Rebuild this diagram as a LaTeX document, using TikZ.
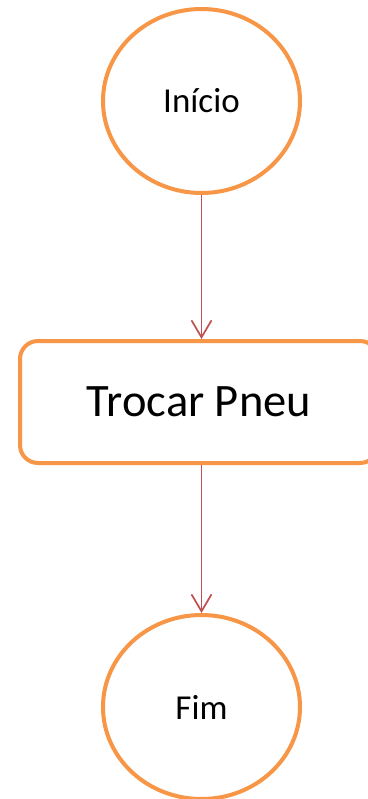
\documentclass[tikz,border=0pt]{standalone}
\usepackage{fontspec}
\setmainfont{Carlito}
\usetikzlibrary{shapes.geometric,arrows.meta}
\definecolor{orangeline}{HTML}{F79646}
\definecolor{arrowred}{HTML}{C0504D}
\tikzset{
  term/.style={ellipse, draw=orangeline, line width=4pt, fill=white,
    minimum width=197pt, minimum height=184pt, inner sep=0pt,
    font=\fontsize{35}{42}\selectfont},
  procbox/.style={rectangle, rounded corners=18pt, draw=orangeline, line width=4pt, fill=white,
    minimum width=358pt, minimum height=122pt, inner sep=0pt,
    font=\fontsize{46.5}{56}\selectfont},
  flow/.style={draw=arrowred, line width=1.7pt,
    -{Straight Barb[length=17pt, width=20pt, line width=1.7pt]}}
}
\begin{document}
\begin{tikzpicture}[x=1pt, y=-1pt]
\useasboundingbox (0,0) rectangle (367,799);
\node[term] (start) at (201.5,101) {Início};
\node[procbox] (task) at (199,402) {Trocar Pneu};
\node[term] (stop) at (201.5,707) {Fim};
\draw[flow] (start.south) -- (start.south |- task.north);
\draw[flow] (start.south |- task.south) -- (stop.north);
\end{tikzpicture}
\end{document}
